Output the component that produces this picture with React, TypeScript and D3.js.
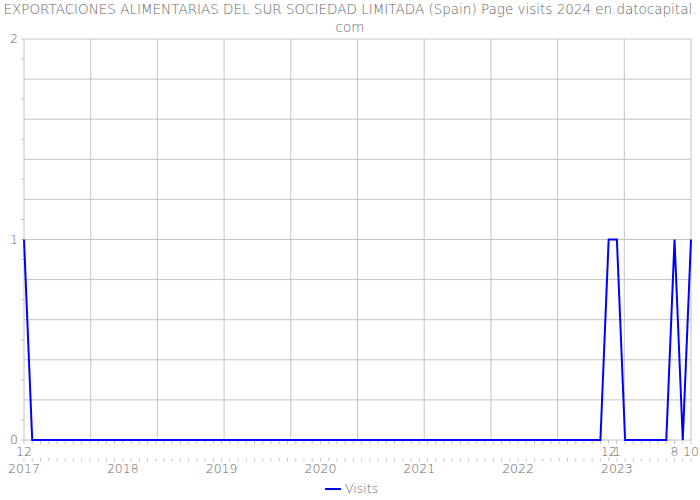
import React from "react";
import * as d3 from "d3";

const titleLines = [
  "EXPORTACIONES ALIMENTARIAS DEL SUR SOCIEDAD LIMITADA (Spain) Page visits 2024 en.datocapital.",
  "com",
];

// monthly visits, 82 points
const visits = [
  1, 0, 0, 0, 0, 0, 0, 0, 0, 0, 0, 0,
  0, 0, 0, 0, 0, 0, 0, 0, 0, 0, 0, 0,
  0, 0, 0, 0, 0, 0, 0, 0, 0, 0, 0, 0,
  0, 0, 0, 0, 0, 0, 0, 0, 0, 0, 0, 0,
  0, 0, 0, 0, 0, 0, 0, 0, 0, 0, 0, 0,
  0, 0, 0, 0, 0, 0, 0, 0, 0, 0, 0, 1,
  1, 0, 0, 0, 0, 0, 0, 1, 0, 1,
];

const pointLabelIndex = [0, 71, 72, 79, 81];
const pointLabelText = ["12", "12", "1", "8", "10"];

const yearIndex = [0, 12, 24, 36, 48, 60, 72];
const yearLabels = ["2017", "2018", "2019", "2020", "2021", "2022", "2023"];

const yTicks = [0, 1, 2];
const seriesName = "Visits";

const W = 700;
const H = 500;
const left = 24;
const right = 691;
const top = 39;
const bottom = 440;
const font = "'DejaVu Sans', sans-serif";
const gridColor = "#c4c4c4";
const textColor = "#666";
const lineColor = "#0000ff";

export default function App() {
  const x = d3.scaleLinear().domain([0, visits.length - 1]).range([left, right]);
  const y = d3.scaleLinear().domain([0, 2]).range([bottom, top]);
  const line = d3
    .line<number>()
    .x((_, i) => x(i))
    .y((d) => y(d));

  const vGrid = d3.range(0, 11).map((k) => left + ((right - left) * k) / 10);
  const hGrid = d3.range(0, 2.0001, 0.2);
  const yMinor = d3.range(0.1, 2, 0.2);
  const months = d3.range(0, visits.length);

  return (
    <svg
      width={W}
      height={H}
      style={{ position: "absolute", left: 0, top: 0, background: "#fff" }}
      fontFamily={font}
      fontWeight={200}
    >
      <text textAnchor="middle" fill={textColor} fontSize={13.5}>
        {titleLines.map((t, i) => (
          <tspan key={i} x={W / 2} y={14 + i * 18}>
            {t}
          </tspan>
        ))}
      </text>

      {/* grid */}
      {hGrid.map((v, i) => (
        <line key={"h" + i} x1={left} x2={right} y1={y(v)} y2={y(v)} stroke={gridColor} strokeWidth={1} />
      ))}
      {vGrid.map((gx, i) => (
        <line key={"v" + i} x1={gx} x2={gx} y1={top} y2={bottom} stroke={gridColor} strokeWidth={1} />
      ))}
      {yMinor.map((v, i) => (
        <line key={"ym" + i} x1={left - 3} x2={left} y1={y(v)} y2={y(v)} stroke={gridColor} />
      ))}
      {yTicks.map((v) => (
        <line key={"yt" + v} x1={left - 3} x2={left} y1={y(v)} y2={y(v)} stroke={gridColor} />
      ))}
      {yTicks.map((v) => (
        <text key={"yl" + v} x={14} y={y(v) + 4} textAnchor="middle" fill={textColor} fontSize={12.5}>
          {v}
        </text>
      ))}

      {/* x axis ticks */}
      {months.map((i) => (
        <line key={"xt" + i} x1={x(i)} x2={x(i)} y1={bottom} y2={bottom + 4} stroke={gridColor} />
      ))}
      {months.map((i) => (
        <line key={"xt2" + i} x1={x(i)} x2={x(i)} y1={bottom + 18} y2={bottom + 21} stroke={gridColor} />
      ))}
      {pointLabelIndex.map((idx, k) => (
        <text key={"pl" + k} x={x(idx)} y={bottom + 16} textAnchor="middle" fill={textColor} fontSize={12.5}>
          {pointLabelText[k]}
        </text>
      ))}
      {yearIndex.map((idx, k) => (
        <text key={"yr" + k} x={x(idx)} y={bottom + 33} textAnchor="middle" fill={textColor} fontSize={12.5}>
          {yearLabels[k]}
        </text>
      ))}

      <path d={line(visits) || ""} fill="none" stroke={lineColor} strokeWidth={2} strokeLinejoin="miter" />

      {/* legend */}
      <line x1={325} x2={341} y1={489} y2={489} stroke={lineColor} strokeWidth={2} />
      <text x={345} y={493} fill={textColor} fontSize={12.5}>
        {seriesName}
      </text>
    </svg>
  );
}
